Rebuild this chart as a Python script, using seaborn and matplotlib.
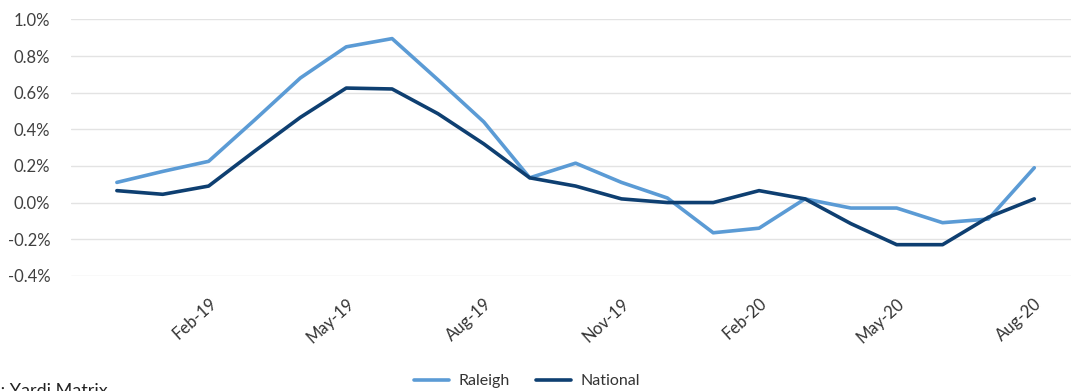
import matplotlib
matplotlib.use("Agg")
import matplotlib.pyplot as plt
import matplotlib.ticker as mticker
import seaborn as sns
import pandas as pd

# Monthly change in average rents, Dec-18 through Aug-20 (percent)
months = ["Dec-18", "Jan-19", "Feb-19", "Mar-19", "Apr-19", "May-19", "Jun-19",
          "Jul-19", "Aug-19", "Sep-19", "Oct-19", "Nov-19", "Dec-19", "Jan-20",
          "Feb-20", "Mar-20", "Apr-20", "May-20", "Jun-20", "Jul-20", "Aug-20"]
raleigh = [0.11, 0.17, 0.225, 0.45, 0.68, 0.85, 0.895, 0.67, 0.44, 0.135,
           0.215, 0.11, 0.025, -0.165, -0.14, 0.02, -0.03, -0.03, -0.11, -0.09, 0.19]
national = [0.065, 0.045, 0.09, 0.28, 0.465, 0.625, 0.62, 0.485, 0.32, 0.135,
            0.09, 0.02, 0.0, 0.0, 0.065, 0.02, -0.115, -0.23, -0.23, -0.08, 0.02]
series_names = ["Raleigh", "National"]
tick_months = ["Feb-19", "May-19", "Aug-19", "Nov-19", "Feb-20", "May-20", "Aug-20"]
y_ticks = [-0.4, -0.2, 0.0, 0.2, 0.4, 0.6, 0.8, 1.0]

sns.set_theme(style="white")
plt.rcParams["font.family"] = ["Lato", "DejaVu Sans"]

df = pd.DataFrame({
    "idx": list(range(len(months))) * 2,
    "value": raleigh + national,
    "series": [series_names[0]] * len(months) + [series_names[1]] * len(months),
})

fig = plt.figure(figsize=(10.71, 3.91), dpi=100)
ax = fig.add_axes([71 / 1071, 1 - 276 / 391, 1 - 71 / 1071, (276 - 19) / 391])

palette = {"Raleigh": "#5b9bd5", "National": "#0e3f71"}
sns.lineplot(data=df, x="idx", y="value", hue="series", palette=palette,
             linewidth=2.6, ax=ax, legend=False)

ax.set_xlim(-1.0, 20.8)
ax.set_ylim(-0.401, 1.002)
ax.set_yticks(y_ticks)
ax.yaxis.set_major_formatter(mticker.FuncFormatter(lambda v, p: f"{v:.1f}%"))
ax.set_xticks([months.index(m) for m in tick_months])
ax.set_xticklabels(tick_months, rotation=42, ha="right", rotation_mode="anchor")
ax.tick_params(axis="x", length=0, pad=14, labelsize=12, labelcolor="#333333")
ax.tick_params(axis="y", length=0, pad=15, labelsize=12, labelcolor="#404040")
ax.grid(axis="y", color="#e3e3e3", linewidth=1.0)
ax.grid(axis="x", visible=False)
for s in ax.spines.values():
    s.set_visible(False)
ax.set_xlabel("")
ax.set_ylabel("")

handles = [plt.Line2D([], [], color=palette[n], linewidth=2.6) for n in series_names]
fig.legend(handles, series_names, loc="center", bbox_to_anchor=(527 / 1071, 1 - 381 / 391),
           ncol=2, frameon=False, fontsize=11.5, handlelength=2.2, columnspacing=1.6,
           handletextpad=0.6, labelcolor="#333333")

fig.text(-54 / 1071, -5 / 391, "Source: Yardi Matrix", fontsize=13, color="#222222",
         ha="left", va="baseline")

fig.savefig("out.png", dpi=100)
